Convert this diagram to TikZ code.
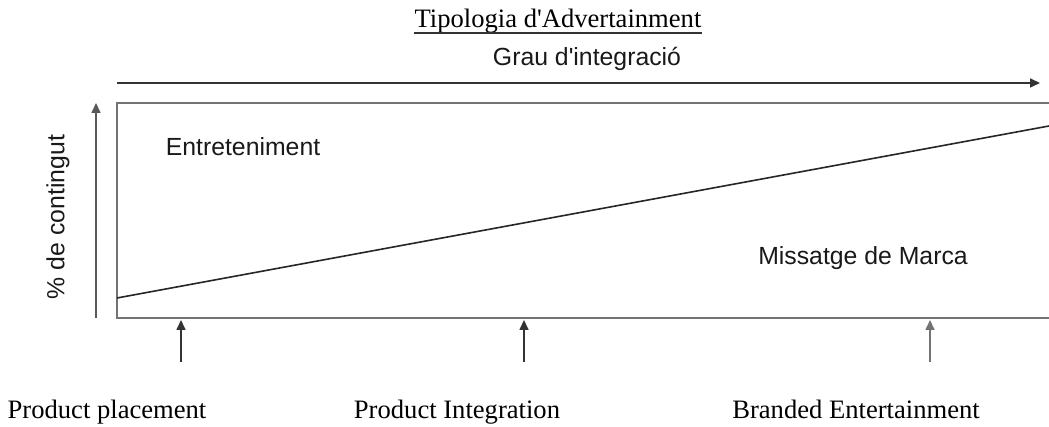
\documentclass[tikz,border=0pt]{standalone}
\usepackage{fontspec}
\setmainfont{Liberation Serif}[Ligatures=TeXOff]
\setsansfont{Liberation Sans}[Ligatures=TeXOff]
\usepackage{xcolor}
\usepackage{tikz}
\usetikzlibrary{arrows.meta, positioning, calc}
\tikzset{
  %% Frame lines of the chart
  frame/.style={draw=black!55, line width=1pt},
  %% Arrow
  arr/.style={-{Triangle[length=5pt,width=4.5pt]},
              draw=black!80, line width=0.8pt},
  %% Serif labels (types)
  tlabel/.style={font=\fontsize{13.3}{16}\selectfont, inner sep=0pt,
                 anchor=base},
  %% Sans labels
  slabel/.style={font=\sffamily\fontsize{12.4}{15}\selectfont,
                 color=black!90, inner sep=1pt},
}

\begin{document}
\begin{tikzpicture}[x=0.5pt, y=0.5pt]

  \useasboundingbox (0,0) rectangle (1049,427);

  %% Corners of the chart
  \coordinate (tl) at (117,324);
  \coordinate (bl) at (117,109);
  \coordinate (tr) at (1049,324);
  \coordinate (br) at (1049,109);

  %% Frame (open on the right)
  \draw[frame] (tr) -- (tl) -- (bl) -- (br);

  %% Split line
  \draw[black!85, line width=0.8pt] (117,129) -- (1049,301);

  %% Titles
  \node[tlabel] (title) at (558,399) {Tipologia d'Advertainment};
  \draw[black!80, line width=0.6pt]
       ([yshift=-2.5pt]title.base west) -- ([yshift=-2.5pt]title.base east);
  \node[slabel] (grau) at (587,368) {Grau d'integració};

  %% Horizontal axis arrow
  \coordinate (hx0) at (117,344);
  \coordinate (hx1) at (1040,344);
  \draw[arr] (hx0) -- (hx1);

  %% Vertical axis arrow
  \coordinate (vy0) at (96,109);
  \coordinate (vy1) at (96,324);
  \draw[arr, draw=black!65] (vy0) -- (vy1);
  \node[slabel, rotate=90] (cont) at (58,210) {\% de contingut};

  %% Zones
  \node[slabel] (ent) at (243,280) {Entreteniment};
  \node[slabel] (msg) at (863,169) {Missatge de Marca};

  %% Types and their arrows
  \node[tlabel] (pp) at (107,8) {Product placement};
  \node[tlabel] (pi) at (457,8) {Product Integration};
  \node[tlabel] (be) at (856,8) {Branded Entertainment};

  \foreach \x/\n/\c in {181/pp/black!80, 524/pi/black!80, 930/be/black!55}{
    \coordinate (\n a) at (\x,65);
    \coordinate (\n b) at (\x,107);
    \draw[arr, draw=\c] (\n a) -- (\n b);
  }

\end{tikzpicture}
\end{document}
